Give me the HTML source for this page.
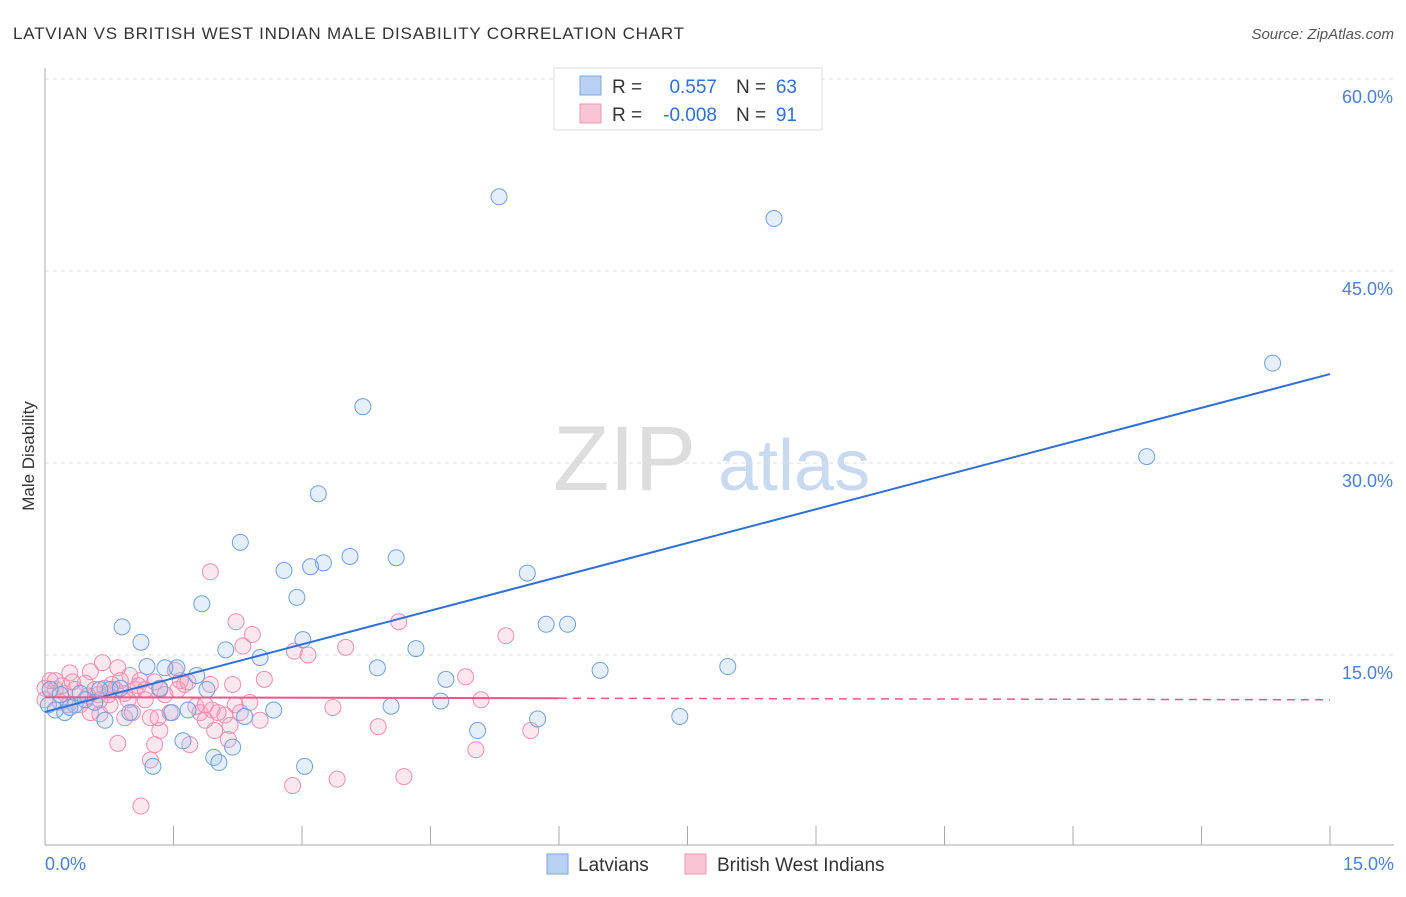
<!DOCTYPE html>
<html><head><meta charset="utf-8"><style>
body{margin:0;background:#fff;font-family:"Liberation Sans",sans-serif}
svg text{font-family:"Liberation Sans",sans-serif}
</style></head><body>
<svg id="c" width="1406" height="892">
<text x="13" y="39" font-size="17" fill="#333" textLength="671">LATVIAN VS BRITISH WEST INDIAN MALE DISABILITY CORRELATION CHART</text>
<text x="1394" y="39" font-size="15" fill="#555" text-anchor="end" font-style="italic">Source: ZipAtlas.com</text>
<text x="34" y="456" font-size="17" fill="#333" text-anchor="middle" transform="rotate(-90 34 456)">Male Disability</text>
<text x="553" y="490" font-size="92" fill="#ddd" font-family="Liberation Serif">ZIP</text>
<text x="718" y="490" font-size="72" fill="#c9d9f0">atlas</text>
<g id="grid"></g><g id="pts"></g><g id="lines"></g>
<g>
<rect x="554" y="68" width="268" height="62" fill="#fff" stroke="#ddd"/>
<rect x="580" y="76" width="21" height="19" fill="#b8d1f3" stroke="#7aa6e0"/>
<rect x="580" y="104" width="21" height="19" fill="#f9c4d4" stroke="#e99ab2"/>
<text x="612" y="93" font-size="19" fill="#333">R =</text>
<text x="717" y="93" font-size="19" fill="#2f6fd6" text-anchor="end">0.557</text>
<text x="736" y="93" font-size="19" fill="#333">N =</text>
<text x="797" y="93" font-size="19" fill="#2f6fd6" text-anchor="end">63</text>
<text x="612" y="121" font-size="19" fill="#333">R =</text>
<text x="717" y="121" font-size="19" fill="#2f6fd6" text-anchor="end">-0.008</text>
<text x="736" y="121" font-size="19" fill="#333">N =</text>
<text x="797" y="121" font-size="19" fill="#2f6fd6" text-anchor="end">91</text>
</g>
<g>
<rect x="547" y="854" width="21" height="20" fill="#b8d1f3" stroke="#7aa6e0"/>
<text x="578" y="871" font-size="19" fill="#333">Latvians</text>
<rect x="685" y="854" width="21" height="20" fill="#f9c4d4" stroke="#e99ab2"/>
<text x="717" y="871" font-size="19" fill="#333">British West Indians</text>
</g>
</svg>
<script>
const yTicks=[15,30,45,60];
const xTickLabels=["0.0%","15.0%"];
const blueX=[5.30,8.51,14.33,12.86,3.71,3.19,2.28,3.56,4.10,3.25,3.10,2.79,5.63,2.94,1.83,5.85,6.10,0.90,1.12,3.01,4.33,2.11,2.51,7.97,6.48,3.88,1.19,1.54,1.40,1.77,4.68,1.89,1.34,4.62,4.04,2.67,1.67,1.48,0.99,2.33,5.75,7.41,0.70,5.05,2.19,1.61,1.97,2.03,1.26,3.03,0.04,0.12,0.23,0.35,0.47,0.58,0.18,0.06,0.76,0.88,0.41,0.29,0.64];
const blueY=[50.8,49.1,37.8,30.5,34.4,27.6,23.8,22.7,22.6,22.2,21.9,21.6,21.4,19.5,19.0,17.4,17.4,17.2,16.0,16.2,15.5,15.4,14.8,14.1,13.8,14.0,14.1,14.0,14.0,13.4,13.1,12.3,12.4,11.4,11.0,10.7,10.7,10.5,10.5,10.2,10.0,10.2,9.9,9.1,7.8,8.3,7.0,6.6,6.3,6.3,11.1,10.7,10.5,11.1,11.5,11.3,11.9,12.3,12.3,12.4,12.0,10.9,12.3];
const pinkX=[1.93,2.23,2.42,4.13,5.38,3.51,2.91,3.07,2.31,4.91,2.56,0.67,0.29,0.53,0.85,0.99,1.11,1.28,1.52,1.63,1.58,1.93,2.19,0,0.12,0.23,0.35,0.47,0.58,0.70,0.82,0.93,1.05,1.17,1.40,0.18,0.41,0.53,0.64,0.76,0.93,1.23,1.46,1.81,1.95,2.22,2.28,3.36,5.09,3.89,2.16,1.98,1.34,1.69,1.28,1.23,0.85,3.41,4.19,2.89,1.12,5.03,5.67,0.06,0.20,0.32,0.62,0.74,0.88,0.97,1.09,1.34,1.55,1.76,1.87,2.10,2.39,0,0.12,0.27,0.50,0.64,0.78,1.02,1.17,1.32,1.67,1.87,2.02,2.14,2.51];
const pinkY=[21.5,17.6,16.6,17.6,16.5,15.6,15.3,15.0,15.7,13.3,13.1,14.4,13.6,13.7,14.0,13.4,13.0,12.9,13.8,12.7,13.0,12.7,12.7,12.4,12.3,12.0,12.3,12.8,12.3,12.4,12.3,12.0,12.3,11.5,11.9,11.3,11.1,10.5,10.4,11.1,10.1,10.1,10.5,10.5,10.7,11.1,10.5,10.9,11.5,9.4,9.5,9.1,9.1,8.0,8.0,6.8,8.1,5.3,5.5,4.8,3.2,7.6,9.1,13.0,12.6,12.9,11.9,11.9,13.0,11.5,12.6,12.3,12.3,11.0,9.9,10.3,11.3,11.5,13.0,11.1,11.8,11.5,12.7,10.5,12.3,10.1,12.9,11.1,10.5,8.4,9.9];
const blueTrend=[10.55,36.95];
const pinkTrend=[11.7,11.5];
const X=v=>45+v/15*1285, Y=v=>847-v/15*192;
const NS="http://www.w3.org/2000/svg";
function mk(p,t,a){const e=document.createElementNS(NS,t);for(const k in a)e.setAttribute(k,a[k]);p.appendChild(e);return e;}
const grid=document.getElementById('grid');
yTicks.forEach(t=>{
 const l=mk(grid,'line',{x1:45,x2:1394,y1:Y(t),y2:Y(t),stroke:'#ddd','stroke-dasharray':'4,4'});
 
 
 const tx=mk(grid,'text',{x:1393,y:Y(t)+24,'font-size':18,fill:'#4a7fd4','text-anchor':'end'});tx.textContent=t.toFixed(1)+'%';
 
 
});
mk(grid,'line',{x1:45,x2:45,y1:68,y2:845,stroke:'#aaa'});
mk(grid,'line',{x1:45,x2:1394,y1:845,y2:845,stroke:'#aaa'});
for(let i=0;i<=10;i++){const x=X(i*1.5);mk(grid,'line',{x1:x,x2:x,y1:826,y2:845,stroke:'#aaa'});}
[[0,45,'start'],[15,1394,'end']].forEach((d,i)=>{const t=mk(grid,'text',{x:d[1],y:870,'font-size':18,fill:'#4a7fd4','text-anchor':d[2]});t.textContent=xTickLabels[i];
 
 });
const pts=document.getElementById('pts');
pinkX.forEach((v,i)=>{const c=mk(pts,'circle',{cx:X(v),cy:Y(pinkY[i]),r:8,fill:'rgba(244,160,190,0.25)',stroke:'#ec8fae','stroke-width':1});
 
 });
blueX.forEach((v,i)=>{const c=mk(pts,'circle',{cx:X(v),cy:Y(blueY[i]),r:8,fill:'rgba(150,190,240,0.25)',stroke:'#6f9fe0','stroke-width':1});
 
 });
const lines=document.getElementById('lines');
const bl=mk(lines,'line',{x1:X(0),y1:Y(blueTrend[0]),x2:X(15),y2:Y(blueTrend[1]),stroke:'#2f6fd6','stroke-width':2});


const pm=pinkTrend[0]+(pinkTrend[1]-pinkTrend[0])*(6/15);
const pl=mk(lines,'line',{x1:X(0),y1:Y(pinkTrend[0]),x2:X(6),y2:Y(pm),stroke:'#e8588a','stroke-width':2});


const pd=mk(lines,'line',{x1:X(6),y1:Y(pm),x2:X(15),y2:Y(pinkTrend[1]),stroke:'#e8588a','stroke-width':1.5,'stroke-dasharray':'8,6'});


</script>
</body></html>
